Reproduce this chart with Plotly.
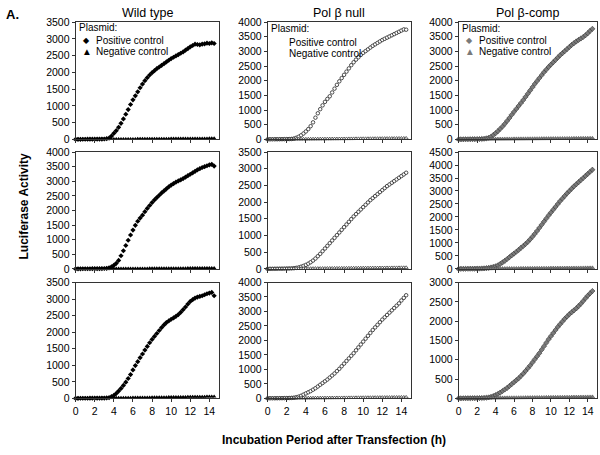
import plotly.graph_objects as go

# ---------------- data ----------------
time_h = [0, 0.25, 0.5, 0.75, 1, 1.25, 1.5, 1.75, 2, 2.25,
          2.5, 2.75, 3, 3.25, 3.5, 3.75, 4, 4.25, 4.5, 4.75,
          5, 5.25, 5.5, 5.75, 6, 6.25, 6.5, 6.75, 7, 7.25,
          7.5, 7.75, 8, 8.25, 8.5, 8.75, 9, 9.25, 9.5, 9.75,
          10, 10.25, 10.5, 10.75, 11, 11.25, 11.5, 11.75, 12, 12.25,
          12.5, 12.75, 13, 13.25, 13.5, 13.75, 14, 14.25, 14.5]

columns = ["Wild type", "Pol β null", "Pol β-comp"]
legend_title = "Plasmid:"
series_names = ["Positive control", "Negative control"]
x_ticks = [0, 2, 4, 6, 8, 10, 12, 14]
y_max = [[3500, 4000, 4000],
         [4000, 3500, 4500],
         [3500, 4000, 3000]]

wt_pos_1 = [2, 3, 3, 4, 4, 5, 5, 6, 7, 8,
            9, 10, 12, 20, 40, 100, 180, 260, 360, 480,
            610, 750, 890, 1040, 1180, 1300, 1420, 1540, 1650, 1750,
            1840, 1920, 1990, 2050, 2110, 2160, 2210, 2260, 2310, 2360,
            2410, 2450, 2490, 2530, 2570, 2610, 2660, 2710, 2760, 2800,
            2840, 2830, 2820, 2840, 2850, 2870, 2860, 2880, 2860]
wt_pos_2 = [2, 3, 3, 4, 4, 5, 5, 6, 6, 7,
            8, 9, 12, 20, 35, 70, 120, 190, 290, 450,
            620, 800, 980, 1160, 1330, 1490, 1630, 1740, 1840, 1960,
            2070, 2170, 2270, 2360, 2440, 2520, 2600, 2670, 2740, 2810,
            2870, 2920, 2970, 3010, 3050, 3090, 3140, 3190, 3240, 3290,
            3340, 3390, 3430, 3470, 3500, 3530, 3560, 3580, 3520]
wt_pos_3 = [2, 2, 3, 3, 4, 4, 5, 5, 6, 6,
            7, 8, 10, 14, 20, 50, 90, 150, 220, 300,
            390, 490, 600, 720, 860, 990, 1110, 1230, 1340, 1460,
            1570, 1680, 1780, 1870, 1960, 2050, 2140, 2220, 2290, 2340,
            2390, 2430, 2480, 2530, 2600, 2680, 2760, 2850, 2930, 2980,
            3030, 3060, 3080, 3100, 3130, 3160, 3180, 3200, 3100]
null_pos_1 = [2, 3, 3, 4, 5, 6, 7, 8, 10, 12,
              15, 30, 55, 90, 140, 200, 270, 350, 450, 580,
              740, 890, 1030, 1160, 1280, 1380, 1470, 1600, 1730, 1860,
              1980, 2090, 2200, 2310, 2420, 2530, 2630, 2720, 2800, 2880,
              2950, 3010, 3070, 3130, 3190, 3240, 3290, 3340, 3390, 3430,
              3470, 3510, 3550, 3590, 3630, 3670, 3710, 3750, 3740]
null_pos_2 = [2, 3, 3, 4, 5, 6, 7, 8, 10, 12,
              15, 20, 30, 45, 65, 90, 120, 155, 200, 250,
              310, 380, 450, 530, 610, 690, 770, 850, 930, 1010,
              1090, 1170, 1250, 1330, 1410, 1490, 1570, 1640, 1710, 1780,
              1850, 1920, 1990, 2060, 2120, 2180, 2240, 2300, 2360, 2420,
              2480, 2530, 2580, 2630, 2680, 2730, 2780, 2830, 2880]
null_pos_3 = [2, 3, 3, 4, 5, 6, 7, 8, 10, 13,
              17, 25, 40, 60, 90, 130, 170, 210, 250, 300,
              350, 410, 470, 530, 590, 650, 720, 790, 860, 940,
              1020, 1110, 1200, 1290, 1380, 1470, 1560, 1660, 1760, 1860,
              1960, 2060, 2160, 2260, 2360, 2450, 2540, 2630, 2720, 2800,
              2880, 2960, 3040, 3120, 3200, 3280, 3380, 3470, 3560]
comp_pos_1 = [2, 3, 3, 4, 5, 6, 7, 8, 10, 12,
              16, 22, 35, 55, 90, 150, 210, 280, 360, 440,
              530, 630, 730, 840, 940, 1040, 1140, 1240, 1340, 1450,
              1560, 1670, 1780, 1890, 1990, 2090, 2190, 2290, 2380, 2470,
              2550, 2630, 2710, 2790, 2870, 2940, 3010, 3080, 3150, 3220,
              3280, 3340, 3390, 3440, 3490, 3550, 3620, 3700, 3770]
comp_pos_2 = [2, 3, 3, 4, 5, 6, 7, 8, 10, 12,
              15, 20, 28, 40, 55, 75, 100, 140, 190, 250,
              310, 380, 450, 520, 590, 660, 730, 810, 880, 960,
              1040, 1140, 1240, 1350, 1460, 1580, 1700, 1820, 1940, 2060,
              2170, 2280, 2390, 2500, 2610, 2710, 2810, 2910, 3000, 3090,
              3180, 3260, 3340, 3420, 3500, 3580, 3660, 3740, 3820]
comp_pos_3 = [2, 2, 3, 3, 4, 4, 5, 6, 7, 8,
              10, 13, 18, 25, 40, 60, 85, 115, 150, 190,
              230, 270, 320, 370, 420, 470, 520, 580, 640, 710,
              780, 850, 930, 1010, 1090, 1170, 1260, 1350, 1440, 1530,
              1610, 1690, 1770, 1850, 1920, 1990, 2060, 2120, 2180, 2230,
              2280, 2330, 2390, 2450, 2520, 2590, 2660, 2720, 2780]

wt_neg_1 = [3, 4, 4, 5, 5, 6, 6, 6, 7, 7,
            8, 8, 9, 9, 10, 10, 11, 11, 12, 12,
            13, 13, 14, 14, 15, 15, 16, 16, 17, 17,
            18, 18, 19, 19, 20, 20, 21, 21, 22, 22,
            23, 23, 24, 24, 25, 25, 26, 26, 27, 27,
            28, 28, 29, 29, 30, 30, 31, 31, 32]
wt_neg_2 = [2, 3, 3, 4, 4, 5, 5, 6, 6, 7,
            7, 8, 8, 9, 9, 10, 10, 11, 11, 12,
            12, 13, 13, 14, 14, 15, 15, 16, 16, 17,
            17, 18, 18, 19, 19, 20, 20, 21, 21, 22,
            22, 23, 23, 24, 24, 25, 25, 26, 26, 27,
            27, 28, 28, 29, 29, 30, 30, 31, 31]
wt_neg_3 = [3, 4, 5, 5, 6, 7, 7, 8, 9, 9,
            10, 11, 12, 12, 13, 14, 15, 16, 17, 18,
            19, 20, 21, 22, 23, 24, 25, 26, 27, 28,
            29, 30, 31, 32, 33, 34, 35, 36, 37, 38,
            39, 40, 41, 42, 43, 44, 45, 46, 47, 48,
            49, 50, 51, 52, 52, 53, 54, 55, 56]
null_neg_1 = [3, 3, 4, 4, 5, 5, 6, 6, 7, 7,
              8, 8, 9, 10, 10, 11, 12, 12, 13, 14,
              14, 15, 16, 16, 17, 18, 18, 19, 20, 20,
              21, 22, 22, 23, 24, 24, 25, 26, 26, 27,
              28, 28, 29, 30, 30, 31, 32, 32, 33, 34,
              34, 35, 36, 36, 37, 38, 38, 39, 40]
null_neg_2 = [2, 3, 3, 4, 4, 5, 5, 6, 7, 7,
              8, 9, 9, 10, 11, 11, 12, 13, 13, 14,
              15, 15, 16, 17, 17, 18, 19, 19, 20, 21,
              21, 22, 23, 23, 24, 25, 25, 26, 27, 27,
              28, 29, 29, 30, 31, 31, 32, 33, 33, 34,
              35, 35, 36, 37, 37, 38, 39, 39, 40]
null_neg_3 = [3, 3, 4, 5, 5, 6, 6, 7, 8, 8,
              9, 10, 10, 11, 12, 12, 13, 14, 14, 15,
              16, 16, 17, 18, 18, 19, 20, 20, 21, 22,
              22, 23, 24, 24, 25, 26, 26, 27, 28, 28,
              29, 30, 30, 31, 32, 32, 33, 34, 34, 35,
              36, 36, 37, 38, 38, 39, 40, 40, 41]
comp_neg_1 = [2, 3, 3, 4, 5, 5, 6, 6, 7, 8,
              8, 9, 10, 10, 11, 12, 12, 13, 14, 14,
              15, 16, 16, 17, 18, 18, 19, 20, 20, 21,
              22, 22, 23, 24, 24, 25, 26, 26, 27, 28,
              28, 29, 30, 30, 31, 32, 32, 33, 34, 34,
              35, 36, 36, 37, 38, 38, 39, 40, 40]
comp_neg_2 = [3, 3, 4, 4, 5, 6, 6, 7, 7, 8,
              9, 9, 10, 11, 11, 12, 13, 13, 14, 15,
              15, 16, 17, 17, 18, 19, 19, 20, 21, 21,
              22, 23, 23, 24, 25, 25, 26, 27, 27, 28,
              29, 29, 30, 31, 31, 32, 33, 33, 34, 35,
              35, 36, 37, 37, 38, 39, 39, 40, 41]
comp_neg_3 = [2, 3, 3, 4, 4, 5, 6, 6, 7, 7,
              8, 9, 9, 10, 10, 11, 12, 12, 13, 14,
              14, 15, 15, 16, 17, 17, 18, 19, 19, 20,
              20, 21, 22, 22, 23, 24, 24, 25, 26, 26,
              27, 28, 28, 29, 30, 30, 31, 32, 32, 33,
              34, 34, 35, 36, 36, 37, 38, 38, 39]

positive = [[wt_pos_1, null_pos_1, comp_pos_1],
            [wt_pos_2, null_pos_2, comp_pos_2],
            [wt_pos_3, null_pos_3, comp_pos_3]]
negative = [[wt_neg_1, null_neg_1, comp_neg_1],
            [wt_neg_2, null_neg_2, comp_neg_2],
            [wt_neg_3, null_neg_3, comp_neg_3]]

# ---------------- styling / layout ----------------
W, H = 600, 455
FONT = "Liberation Sans, Arial, sans-serif"
col_px = [(73, 217), (266, 410), (458, 597)]
row_px = [(16.5, 137), (150, 270), (284, 403)]
AXC = "#333333"

pos_style = [
    dict(symbol="diamond", size=4, color="black", line=dict(width=0)),
    dict(symbol="circle", size=3.5, color="white", line=dict(color="#222222", width=0.8)),
    dict(symbol="diamond", size=4, color="#7a7a7a", line=dict(color="#333333", width=0.6)),
]
neg_style = [
    dict(symbol="triangle-up", size=4, color="black", line=dict(width=0)),
    dict(symbol="triangle-up", size=3.5, color="white", line=dict(color="#222222", width=0.7)),
    dict(symbol="triangle-up", size=4, color="#7a7a7a", line=dict(color="#444444", width=0.5)),
]

fig = go.Figure()
layout = dict(width=W, height=H, margin=dict(l=0, r=0, t=0, b=0),
              paper_bgcolor="white", plot_bgcolor="white",
              showlegend=False, font=dict(family=FONT, size=10, color="black"))

for r in range(3):
    for c in range(3):
        n = r * 3 + c + 1
        xs = "" if n == 1 else str(n)
        fig.add_trace(go.Scatter(x=time_h, y=positive[r][c], mode="markers",
                                 name=series_names[0], marker=pos_style[c],
                                 xaxis="x" + xs, yaxis="y" + xs, cliponaxis=False))
        fig.add_trace(go.Scatter(x=time_h, y=negative[r][c], mode="markers",
                                 name=series_names[1], marker=neg_style[c],
                                 xaxis="x" + xs, yaxis="y" + xs, cliponaxis=False))
        x0, x1 = col_px[c]
        y0, y1 = row_px[r]
        layout["xaxis" + xs] = dict(
            domain=[x0 / W, x1 / W], anchor="y" + xs, range=[0, 15],
            tickvals=x_ticks, showticklabels=(r == 2), ticks="outside", ticklen=3,
            tickcolor=AXC, showline=True, mirror=True, linecolor=AXC, linewidth=1,
            showgrid=False, zeroline=False, tickfont=dict(size=10.5))
        layout["yaxis" + xs] = dict(
            domain=[1 - y1 / H, 1 - y0 / H], anchor="x" + xs, range=[0, y_max[r][c]],
            dtick=500, tick0=0, ticks="outside", ticklen=3, tickcolor=AXC,
            showline=True, mirror=True, linecolor=AXC, linewidth=1,
            showgrid=False, zeroline=False, tickfont=dict(size=10.5))

ann = []


def A(text, px, py, size=10, xanchor="left", bold=False, color="black", family=FONT, angle=0):
    if bold:
        text = "<b>" + text + "</b>"
    ann.append(dict(text=text, x=px / W, y=1 - py / H, xref="paper", yref="paper",
                    xanchor=xanchor, yanchor="middle", showarrow=False, textangle=angle,
                    font=dict(size=size, color=color, family=family), borderpad=0))


# column titles
for c in range(3):
    A(columns[c], (col_px[c][0] + col_px[c][1]) / 2, 7, size=12.5, xanchor="center")

# legends (inside first-row panels)
A(legend_title, 75, 22)
A("◆", 84, 35, size=8, xanchor="center", family="DejaVu Sans")
A(series_names[0], 92, 35)
A("▲", 84, 47, size=7.5, xanchor="center", family="DejaVu Sans")
A(series_names[1], 92, 47)

A(legend_title, 268, 23)
A(series_names[0], 286, 37)
A(series_names[1], 286, 49)

A(legend_title, 460, 23)
A("◆", 469, 35, size=8, xanchor="center", family="DejaVu Sans", color="#7a7a7a")
A(series_names[0], 477, 35)
A("▲", 469, 47, size=7.5, xanchor="center", family="DejaVu Sans", color="#7a7a7a")
A(series_names[1], 477, 47)

# axis titles and panel label
A("Luciferase Activity", 21, 205, size=12, xanchor="center", bold=True, angle=-90)
A("Incubation Period after Transfection (h)", 333, 446, size=12, xanchor="center", bold=True)
A("A.", 2, 9, size=13, bold=True)

layout["annotations"] = ann
fig.update_layout(**layout)
fig.write_html("out.html", config={"displayModeBar": False},
               post_script="document.body.style.margin='0';document.body.style.overflow='hidden';")
